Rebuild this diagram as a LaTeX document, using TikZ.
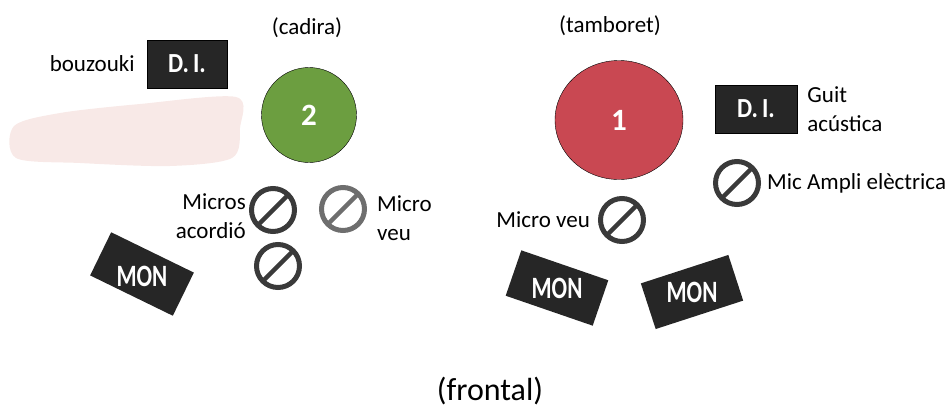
\documentclass[tikz,border=0pt]{standalone}
\usepackage{fontspec}
\setmainfont{Carlito}
\usetikzlibrary{positioning}
\usetikzlibrary{shapes.geometric}
\definecolor{seatgreen}{RGB}{108,158,64}
\definecolor{seatred}{RGB}{201,72,82}
\definecolor{boxgray}{RGB}{38,38,38}
\definecolor{micgray}{RGB}{58,58,58}
\definecolor{miclight}{RGB}{110,110,110}
\definecolor{smudge}{RGB}{248,233,231}

\begin{document}
\begin{tikzpicture}[x = 1pt, y = -1pt]
	\tikzstyle{labelStyle}=[font = \fontsize{23}{29}\selectfont, inner sep = 0pt]
	\tikzstyle{titleStyle}=[font = \fontsize{23}{29}\selectfont, inner sep = 0pt]
	\tikzstyle{diStyle}=[rectangle, fill = boxgray, draw = black, minimum width = 80pt, minimum height = 48pt, text = white, font = \fontsize{24}{24}\selectfont\bfseries]
	\tikzstyle{monFill}=[fill = boxgray]
	\tikzstyle{monText}=[text = white, inner sep = 0pt, font = \fontsize{23}{23}\selectfont\bfseries]
	\tikzstyle{seatStyle}=[ellipse, draw = black, text = white, font = \fontsize{31}{31}\selectfont\bfseries]
	\tikzstyle{micStyle}[micgray]=[circle, draw = #1, line width = 5pt, minimum size = 43pt, inner sep = 0pt, path picture = {\draw[line width = 4.5pt, #1] (path picture bounding box.south west) -- (path picture bounding box.north east);}]
	\useasboundingbox (0,0) rectangle (952,407);
	% eraser mark
	\fill[smudge] plot[smooth cycle] coordinates {(14,126) (60,113) (140,104) (236,97) (240,128) (232,158) (170,166) (80,163) (16,158)};
	% chairs
	\node[titleStyle] (cadira) at (307,28) {(cadira)};
	\node[titleStyle] (tamboret) at (610,26) {(tamboret)};
	\node[seatStyle, fill = seatgreen, minimum width = 95pt, minimum height = 95pt] (s2) at (309,115) {2};
	\node[seatStyle, fill = seatred, minimum width = 128pt, minimum height = 119pt] (s1) at (619,120) {1};
	% D.I. boxes
	\node[diStyle] (diL) at (187,64) {\scalebox{1}[1.15]{D.\,I.}};
	\node[labelStyle, left = 12pt of diL] (bouzouki) {bouzouki};
	\node[diStyle, minimum width = 82pt] (diR) at (756,109) {\scalebox{1}[1.15]{D.\,I.}};
	\node[labelStyle, align = left, right = 10pt of diR] (guit) {Guit\\acústica};
	% mics
	\node[micStyle] (mA) at (273,210) {};
	\node[micStyle] (mB) at (278,266) {};
	\node[micStyle = miclight] (mV) at (343,209) {};
	\node[micStyle] (mR) at (622,220) {};
	\node[micStyle] (mE) at (737,183) {};
	\node[labelStyle, align = right, anchor = east] (acordio) at (246,216) {Micros\\acordió};
	\node[labelStyle, align = left, anchor = west] (veuL) at (377,218) {Micro\\veu};
	\node[labelStyle, left = 8pt of mR] (veuR) {Micro veu};
	\node[labelStyle, right = 6pt of mE] (ampli) {Mic Ampli elèctrica};
	% monitors
	\fill[monFill, rotate around = {-26:(142,274)}] (96,250) rectangle (188,298);
	\node[monText] (monL) at (142,276) {\scalebox{1}[1.35]{MON}};
	\fill[monFill, rotate around = {-19:(557,288)}] (511,264) rectangle (603,312);
	\node[monText] (monA) at (557,288) {\scalebox{1}[1.35]{MON}};
	\fill[monFill, rotate around = {18:(692,292)}] (646,268) rectangle (738,316);
	\node[monText] (monB) at (692,292) {\scalebox{1}[1.35]{MON}};
	% front
	\node[font = \fontsize{32}{32}\selectfont, inner sep = 0pt] (frontal) at (490,391) {(frontal)};
\end{tikzpicture}
\end{document}
